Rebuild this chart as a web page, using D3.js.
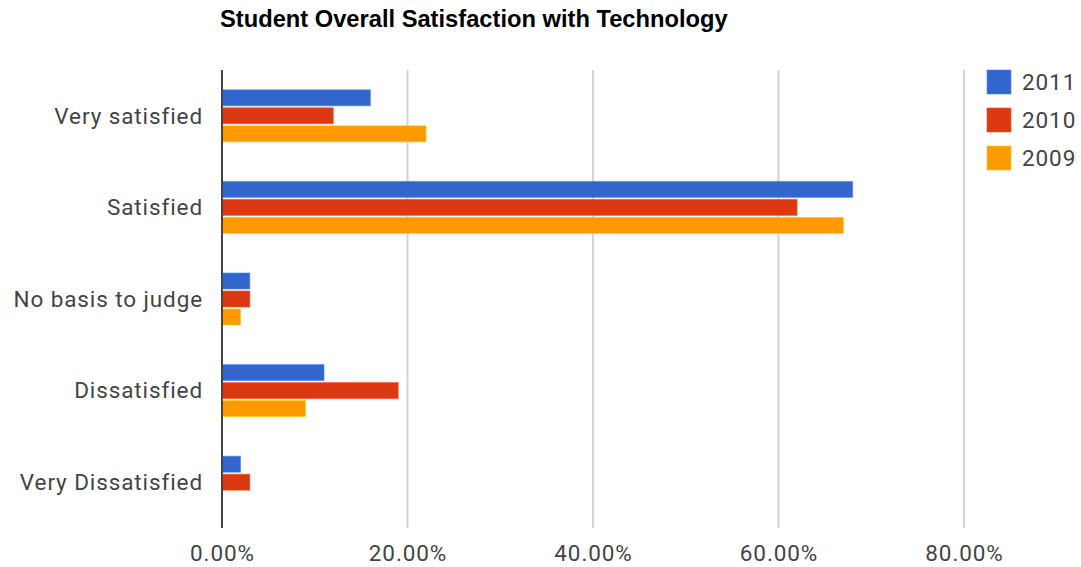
<!DOCTYPE html>
<html>
<head>
<meta charset="utf-8">
<script src="https://cdn.jsdelivr.net/npm/d3@7"></script>
<style>
  html, body { margin: 0; padding: 0; background: #fff; }
  svg { display: block; }
</style>
</head>
<body>
<svg id="chart" width="1081" height="567"></svg>
<script>
// Survey answers, top to bottom
const categories = ["Very satisfied", "Satisfied", "No basis to judge", "Dissatisfied", "Very Dissatisfied"];
const seriesNames = ["2011", "2010", "2009"];
const seriesColors = ["#3366cc", "#dc3912", "#ff9900"];
// Share of students (fraction) per answer, one array per year
const values2011 = [0.16, 0.68, 0.03, 0.11, 0.02];
const values2010 = [0.12, 0.62, 0.03, 0.19, 0.03];
const values2009 = [0.22, 0.67, 0.02, 0.09, 0.00];
const tickValues = [0, 0.2, 0.4, 0.6, 0.8];
const chartTitle = "Student Overall Satisfaction with Technology";

const seriesValues = [values2011, values2010, values2009];
const rows = categories.map((c, i) => ({
  category: c,
  values: seriesNames.map((s, k) => ({ series: s, value: seriesValues[k][i], color: seriesColors[k] }))
}));

const svg = d3.select("#chart");
const plot = { left: 222, right: 964, top: 70, bottom: 528 };
const labelFont = "Roboto, Arial, sans-serif";
const labelSize = 22.5;
const labelSpacing = 0.9;
const labelColor = "#444";

const x = d3.scaleLinear().domain([0, 0.8]).range([plot.left, plot.right]);
const y = d3.scaleBand().domain(categories).range([plot.top, plot.bottom]);
const groupHeight = 54;
const ySeries = d3.scaleBand().domain(seriesNames).range([0, groupHeight]);
const barHeight = ySeries.bandwidth() - 2;

// Title
svg.append("text")
  .attr("x", 220).attr("y", 27)
  .attr("font-family", "Liberation Sans, Arial, sans-serif")
  .attr("font-weight", "bold")
  .attr("font-size", 23.7)
  .attr("fill", "#000")
  .text(chartTitle);

// Vertical gridlines
svg.append("g").selectAll("line")
  .data(tickValues.filter(t => t > 0))
  .join("line")
  .attr("x1", d => x(d)).attr("x2", d => x(d))
  .attr("y1", plot.top).attr("y2", plot.bottom)
  .attr("stroke", "#d4d4d4")
  .attr("stroke-width", 2);

// Bars
const groups = svg.append("g").selectAll("g")
  .data(rows)
  .join("g")
  .attr("transform", d => `translate(0,${y(d.category) + (y.bandwidth() - groupHeight) / 2})`);

groups.selectAll("rect")
  .data(d => d.values.filter(v => v.value > 0))
  .join("rect")
  .attr("x", x(0))
  .attr("y", d => ySeries(d.series) + 1)
  .attr("width", d => x(d.value) - x(0))
  .attr("height", barHeight)
  .attr("fill", d => d.color)
  .attr("stroke", d => d3.color(d.color).brighter(0.8))
  .attr("stroke-opacity", 0.6)
  .attr("stroke-width", 1);

// Baseline
svg.append("line")
  .attr("x1", x(0)).attr("x2", x(0))
  .attr("y1", plot.top).attr("y2", plot.bottom)
  .attr("stroke", "#444")
  .attr("stroke-width", 2);

// Category labels
const yAxis = svg.append("g")
  .attr("transform", `translate(${plot.left - 19},0)`)
  .call(d3.axisLeft(y).tickSize(0).tickPadding(0));
yAxis.select(".domain").remove();
yAxis.selectAll("text")
  .attr("font-family", labelFont)
  .attr("font-size", labelSize)
  .attr("letter-spacing", labelSpacing)
  .attr("fill", labelColor)
  .attr("dy", "0.35em");

// Percentage axis labels
const xAxis = svg.append("g")
  .attr("transform", `translate(0,${plot.bottom})`)
  .call(d3.axisBottom(x).tickValues(tickValues).tickFormat(d3.format(".2%")).tickSize(0).tickPadding(0));
xAxis.select(".domain").remove();
xAxis.selectAll("text")
  .attr("font-family", labelFont)
  .attr("font-size", labelSize)
  .attr("letter-spacing", labelSpacing)
  .attr("fill", labelColor)
  .attr("y", 25)
  .attr("dy", "0.35em");

// Legend
const legend = svg.append("g").selectAll("g")
  .data(seriesNames)
  .join("g")
  .attr("transform", (d, i) => `translate(987,${70 + i * 38})`);
legend.append("rect")
  .attr("width", 24).attr("height", 24)
  .attr("fill", (d, i) => seriesColors[i])
  .attr("stroke", (d, i) => d3.color(seriesColors[i]).brighter(0.8))
  .attr("stroke-opacity", 0.6);
legend.append("text")
  .attr("x", 35).attr("y", 20)
  .attr("font-family", labelFont)
  .attr("font-size", labelSize)
  .attr("letter-spacing", labelSpacing)
  .attr("fill", labelColor)
  .text(d => d);
</script>
</body>
</html>
